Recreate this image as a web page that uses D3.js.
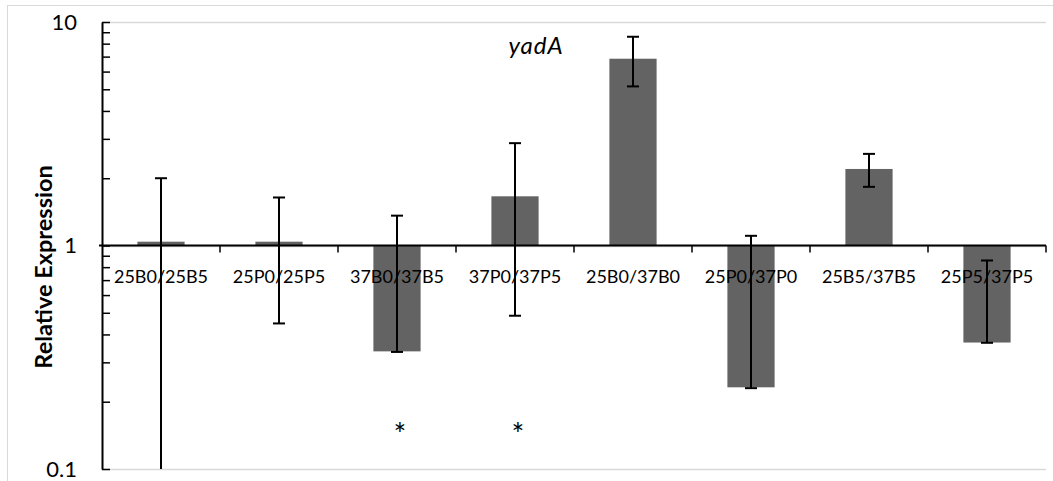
<!DOCTYPE html>
<html>
<head>
<meta charset="utf-8">
<script src="https://cdn.jsdelivr.net/npm/d3@7"></script>
<style>
  html, body { margin: 0; padding: 0; background: #fff; }
  svg { display: block; font-family: Lato, "Open Sans", sans-serif; }
</style>
</head>
<body>
<svg id="chart" width="1053" height="481"></svg>
<script>
// Relative expression of yadA for each temperature/phase comparison
const categories = ["25B0/25B5", "25P0/25P5", "37B0/37B5", "37P0/37P5",
                    "25B0/37B0", "25P0/37P0", "25B5/37B5", "25P5/37P5"];
const values    = [1.04, 1.04, 0.336, 1.66, 6.85, 0.232, 2.2, 0.368];
const errHigh   = [2.0, 1.64, 1.36, 2.87, 8.59, 1.105, 2.57, 0.857];
const errLow    = [0.1, 0.448, 0.334, 0.485, 5.15, 0.23, 1.83, 0.367];
const significant = ["37B0/37B5", "37P0/37P5"];
const yTickLabels = [0.1, 1, 10];
const yMinorTicks = [0.1, 0.2, 0.3, 0.4, 0.5, 0.6, 0.7, 0.8, 0.9,
                     1, 2, 3, 4, 5, 6, 7, 8, 9, 10];

const svg = d3.select("#chart");
const plotLeft = 102, plotRight = 1046, plotTop = 22, plotBottom = 469;

const x = d3.scaleBand().domain(categories).range([plotLeft, plotRight]).paddingInner(0).paddingOuter(0);
const y = d3.scaleLog().domain([0.1, 10]).range([plotBottom, plotTop]);

// outer chart frame
svg.append("rect")
  .attr("x", 7.5).attr("y", 5.5).attr("width", 1060).attr("height", 500)
  .attr("fill", "none").attr("stroke", "#d9d9d9").attr("stroke-width", 1);

// major gridlines
svg.append("g").selectAll("line")
  .data(yTickLabels)
  .join("line")
  .attr("x1", plotLeft).attr("x2", plotRight)
  .attr("y1", d => Math.round(y(d)) + 0.5).attr("y2", d => Math.round(y(d)) + 0.5)
  .attr("stroke", "#d9d9d9").attr("stroke-width", 1.5);

// bars, drawn from the baseline at 1
const bw = x.bandwidth() * 0.4;
svg.append("g").selectAll("rect")
  .data(categories)
  .join("rect")
  .attr("x", (d) => x(d) + (x.bandwidth() - bw) / 2)
  .attr("width", bw)
  .attr("y", (d, i) => Math.min(y(values[i]), y(1)))
  .attr("height", (d, i) => Math.abs(y(values[i]) - y(1)))
  .attr("fill", "#636363");

// y axis with minor ticks inside the plot
const yAxis = d3.axisLeft(y)
  .tickValues(yMinorTicks)
  .tickSizeInner(-8)
  .tickSizeOuter(0)
  .tickPadding(25)
  .tickFormat(d => yTickLabels.includes(d) ? String(d) : "");
const gy = svg.append("g").attr("transform", `translate(${plotLeft},0)`).call(yAxis);
gy.attr("font-family", null).attr("font-size", null);
gy.select(".domain").attr("stroke", "#000").attr("stroke-width", 2);
gy.selectAll(".tick line").attr("stroke", "#000").attr("stroke-width", 1.5);
gy.selectAll(".tick text").style("font-size", "22px").attr("fill", "#000");

// x axis along value 1, ticks at category boundaries
const y1 = y(1);
const gx = svg.append("g");
gx.append("line")
  .attr("x1", plotLeft - 3).attr("x2", plotRight)
  .attr("y1", y1).attr("y2", y1)
  .attr("stroke", "#000").attr("stroke-width", 2);
gx.selectAll("line.tick")
  .data(categories.slice(1).map(c => x(c)).concat([plotRight]))
  .join("line")
  .attr("class", "tick")
  .attr("x1", d => d).attr("x2", d => d)
  .attr("y1", y1).attr("y2", y1 + 7)
  .attr("stroke", "#000").attr("stroke-width", 1.5);
gx.selectAll("text")
  .data(categories)
  .join("text")
  .attr("x", d => x(d) + x.bandwidth() / 2)
  .attr("y", y1 + 37.5)
  .attr("text-anchor", "middle")
  .style("font-size", "18px")
  .attr("fill", "#000")
  .text(d => d);

// error bars
const cap = 6;
const eg = svg.append("g").attr("stroke", "#000").attr("stroke-width", 2);
categories.forEach((c, i) => {
  const cx = x(c) + x.bandwidth() / 2;
  const yh = y(errHigh[i]), yl = y(errLow[i]);
  eg.append("line").attr("x1", cx).attr("x2", cx).attr("y1", yh).attr("y2", yl);
  eg.append("line").attr("x1", cx - cap).attr("x2", cx + cap).attr("y1", yh).attr("y2", yh);
  if (errLow[i] > 0.1) {
    eg.append("line").attr("x1", cx - cap).attr("x2", cx + cap).attr("y1", yl).attr("y2", yl);
  }
});

// significance markers
svg.append("g").selectAll("text")
  .data(significant)
  .join("text")
  .attr("x", d => x(d) + x.bandwidth() / 2 + 3)
  .attr("y", 445)
  .attr("text-anchor", "middle")
  .style("font-size", "30px")
  .attr("fill", "#000")
  .text("*");

// gene name
svg.append("text")
  .attr("x", 536).attr("y", 54)
  .attr("text-anchor", "middle")
  .style("font-size", "24px")
  .style("letter-spacing", "1px")
  .attr("font-style", "italic")
  .attr("fill", "#000")
  .text("yadA");

// y axis title
svg.append("text")
  .attr("transform", "translate(51.5,267) rotate(-90)")
  .attr("text-anchor", "middle")
  .style("font-size", "23.5px")
  .attr("font-weight", "bold")
  .attr("fill", "#000")
  .text("Relative Expression");
</script>
</body>
</html>
